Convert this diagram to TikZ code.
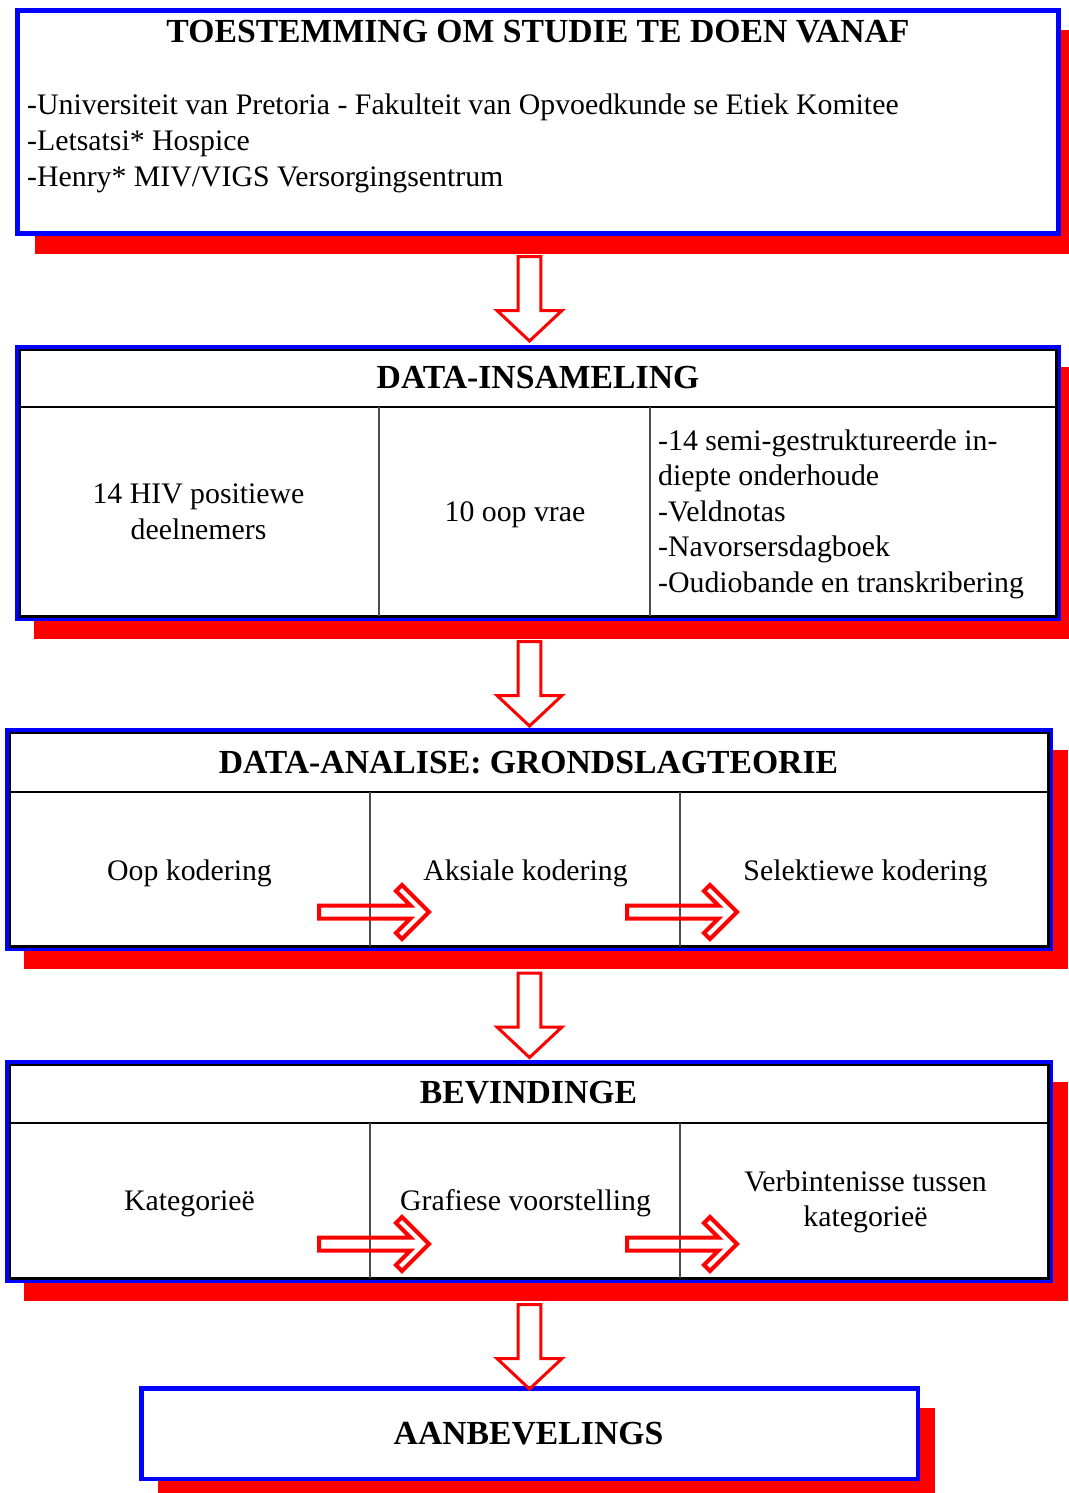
\documentclass[tikz,border=0pt]{standalone}
\usepackage{fontspec}
\setmainfont{Liberation Serif}
\usetikzlibrary{shadows}
\begin{document}
\begin{tikzpicture}[x=1pt,y=-1pt,
  frame/.style={draw=blue, fill=white, anchor=north west, inner sep=0pt, outer sep=0pt,
    drop shadow={fill=red, opacity=1, shadow xshift=17pt, shadow yshift=-20pt}},
  tabframe/.style={draw=black, line width=2.5pt},
  headrule/.style={draw=black, line width=2pt},
  colrule/.style={draw=black!70, line width=1.2pt},
  body/.style={font=\fontsize{29.8}{35.5}\selectfont, inner sep=0pt, anchor=base},
  bodyl/.style={body, anchor=base west},
  head/.style={font=\bfseries\fontsize{33.7}{40}\selectfont, inner sep=0pt, anchor=base},
  varrow/.style={draw=red, line width=3pt, line join=miter},
  harrow/.style={draw=red, line width=4pt, line join=miter},
  darr/.pic={\draw[varrow] (-11.3,0) -- (11.3,0) -- (11.3,54) -- (32.5,54) -- (0,84.5) -- (-32.5,54) -- (-11.3,54) -- cycle;},
  rarr/.pic={\draw[harrow] (0,-6.5) -- (91.5,-6.5) -- (77,-21) -- (83,-27) -- (110,0) -- (83,27) -- (77,21) -- (91.5,6.5) -- (0,6.5) -- cycle;}
]
\useasboundingbox (0,0) rectangle (1068,1493);

% ---------- Box 1 ----------
\node[frame, line width=5pt, minimum width=1041pt, minimum height=223pt] (b1) at (17.5,10.5) {};
\node[head] (t1) at (538,43) {TOESTEMMING OM STUDIE TE DOEN VANAF};
\node[bodyl] (l1) at (27,115) {-Universiteit van Pretoria - Fakulteit van Opvoedkunde se Etiek Komitee};
\node[bodyl] (l2) at (27,150.7) {-Letsatsi* Hospice};
\node[bodyl] (l3) at (27,186) {-Henry* MIV/VIGS Versorgingsentrum};

% ---------- Box 2 ----------
\node[frame, line width=3.5pt, minimum width=1042.5pt, minimum height=272.5pt] (b2) at (16.75,346.75) {};
\draw[tabframe] (19.75,349.75) rectangle (1056.25,616.25);
\draw[headrule] (19.75,407) -- (1056.25,407);
\draw[colrule] (379,407) -- (379,616.25);
\draw[colrule] (650,407) -- (650,616.25);
\node[head] (t2) at (538,388.3) {DATA-INSAMELING};
\node[body] (c21a) at (198.5,503) {14 HIV positiewe};
\node[body] (c21b) at (198.5,539) {deelnemers};
\node[body] (c22) at (515,521.7) {10 oop vrae};
\node[bodyl] (c23a) at (658,450) {-14 semi-gestruktureerde in-};
\node[bodyl] (c23b) at (658,485.5) {diepte onderhoude};
\node[bodyl] (c23c) at (658,521) {-Veldnotas};
\node[bodyl] (c23d) at (658,556.5) {-Navorsersdagboek};
\node[bodyl] (c23e) at (658,592) {-Oudiobande en transkribering};

% ---------- Box 3 ----------
\node[frame, line width=3.5pt, minimum width=1044.5pt, minimum height=219.5pt] (b3) at (6.75,729.75) {};
\draw[tabframe] (9.75,732.75) rectangle (1048.25,946.25);
\draw[headrule] (9.75,792) -- (1048.25,792);
\draw[colrule] (370,792) -- (370,946.25);
\draw[colrule] (680,792) -- (680,946.25);
\node[head] (t3) at (528.5,773) {DATA-ANALISE: GRONDSLAGTEORIE};
\node[body] (c31) at (189.5,880) {Oop kodering};
\node[body] (c32) at (525.5,880) {Aksiale kodering};
\node[body] (c33) at (865.5,880) {Selektiewe kodering};
\pic (r31) at (319,912) {rarr};
\pic (r32) at (627,912) {rarr};

% ---------- Box 4 ----------
\node[frame, line width=3.5pt, minimum width=1044.25pt, minimum height=219.5pt] (b4) at (7,1061.75) {};
\draw[tabframe] (10,1064.75) rectangle (1048.25,1278.25);
\draw[headrule] (10,1122.5) -- (1048.25,1122.5);
\draw[colrule] (370,1122.5) -- (370,1278.25);
\draw[colrule] (680,1122.5) -- (680,1278.25);
\node[head] (t4) at (528.5,1103) {BEVINDINGE};
\node[body] (c41) at (189.5,1210) {Kategorieë};
\node[body] (c42) at (525.5,1210) {Grafiese voorstelling};
\node[body] (c43a) at (865.5,1191.7) {Verbintenisse tussen};
\node[body] (c43b) at (865.5,1226.7) {kategorieë};
\pic (r41) at (319,1244) {rarr};
\pic (r42) at (627,1244) {rarr};

% ---------- Box 5 ----------
\node[frame, line width=4.5pt, minimum width=776.5pt, minimum height=90.5pt] (b5) at (141.25,1388.25) {};
\node[head] (t5) at (528.5,1444) {AANBEVELINGS};

% ---------- down arrows ----------
\pic (d1) at (529.5,256.5) {darr};
\pic (d2) at (529.5,641.5) {darr};
\pic (d3) at (529.5,973) {darr};
\pic (d4) at (529.5,1304.5) {darr};
\end{tikzpicture}
\end{document}
